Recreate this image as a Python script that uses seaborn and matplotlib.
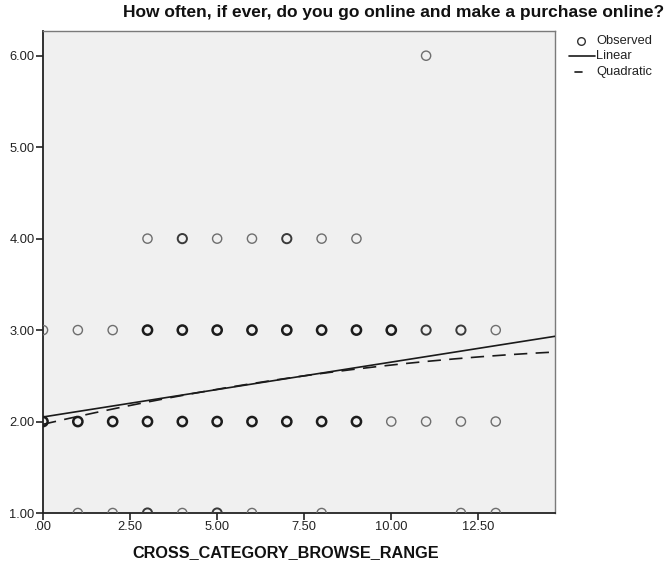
import matplotlib
matplotlib.use("Agg")
import matplotlib.pyplot as plt
from matplotlib.lines import Line2D
import numpy as np
import pandas as pd
import seaborn as sns

# Observed responses: browse range (x), purchase frequency code (y), number of overlapping cases (n)
browse_range = [11,
                3, 4, 5, 6, 7, 8, 9,
                0, 1, 2, 3, 4, 5, 6, 7, 8, 9, 10, 11, 12, 13,
                0, 1, 2, 3, 4, 5, 6, 7, 8, 9, 10, 11, 12, 13,
                1, 2, 3, 4, 5, 6, 8, 12, 13]
purchase_freq = [6,
                 4, 4, 4, 4, 4, 4, 4,
                 3, 3, 3, 3, 3, 3, 3, 3, 3, 3, 3, 3, 3, 3,
                 2, 2, 2, 2, 2, 2, 2, 2, 2, 2, 2, 2, 2, 2,
                 1, 1, 1, 1, 1, 1, 1, 1, 1]
case_count = [1,
              1, 2, 1, 1, 2, 1, 1,
              1, 1, 1, 3, 3, 3, 3, 3, 3, 3, 3, 2, 2, 1,
              3, 3, 3, 3, 3, 3, 3, 3, 3, 3, 1, 1, 1, 1,
              1, 1, 2, 1, 2, 1, 1, 1, 1]

# Fitted curve coefficients (constant, b1, b2)
linear_coef = [2.05, 0.060]
quadratic_coef = [1.97, 0.0883, -0.00235]

x_ticks = [0, 2.5, 5, 7.5, 10, 12.5]
x_tick_labels = [".00", "2.50", "5.00", "7.50", "10.00", "12.50"]
y_ticks = [1, 2, 3, 4, 5, 6]
y_tick_labels = ["1.00", "2.00", "3.00", "4.00", "5.00", "6.00"]
legend_labels = ["Observed", "Linear", "Quadratic"]

df = pd.DataFrame({"x": browse_range, "y": purchase_freq, "n": case_count})

sns.set_theme(style="white")
plt.rcParams["font.family"] = ["Liberation Sans", "DejaVu Sans"]

W, H = 667, 569
fig = plt.figure(figsize=(W / 100, H / 100), dpi=100)
ax = fig.add_axes([0.0645, 0.0984, 0.7675, 0.8471])
ax.set_facecolor("#f0f0f0")

edge_by_n = {1: "#6e6e6e", 2: "#3a3a3a", 3: "#1c1c1c"}
width_by_n = {1: 1.0, 2: 1.4, 3: 1.8}
for n_val, sub in df.groupby("n"):
    sns.scatterplot(data=sub, x="x", y="y", ax=ax, marker="o", s=44,
                    facecolors="none", edgecolor=edge_by_n[n_val],
                    linewidth=width_by_n[n_val], legend=False, zorder=3)

xlim = (0, 14.7)
ylim = (1.0, 6.27)
xs = np.linspace(xlim[0], xlim[1], 200)
lin = linear_coef[0] + linear_coef[1] * xs
quad = quadratic_coef[0] + quadratic_coef[1] * xs + quadratic_coef[2] * xs ** 2
sns.lineplot(x=xs, y=lin, ax=ax, color="#1a1a1a", linewidth=1.2, zorder=4)
sns.lineplot(x=xs, y=quad, ax=ax, color="#1a1a1a", linewidth=1.2, zorder=4)
ax.lines[-1].set_dashes([8, 5])

ax.set_xlim(*xlim)
ax.set_ylim(*ylim)
ax.set_xticks(x_ticks)
ax.set_xticklabels(x_tick_labels)
ax.set_yticks(y_ticks)
ax.set_yticklabels(y_tick_labels)
ax.tick_params(axis="both", direction="out", length=5, width=1.2,
               color="#222222", labelsize=9.3, labelcolor="#222222", pad=1,
               bottom=True, left=True)
ax.set_xlabel("CROSS_CATEGORY_BROWSE_RANGE", fontsize=11.7, fontweight="bold",
              color="#111111")
ax.xaxis.set_label_coords(0.475, -0.066)
ax.set_ylabel("")

for side in ("left", "bottom"):
    ax.spines[side].set_color("#222222")
    ax.spines[side].set_linewidth(1.3)
for side in ("top", "right"):
    ax.spines[side].set_color("#7a7a7a")
    ax.spines[side].set_linewidth(1.0)

fig.text(0.996, 1 - 12 / H, "How often, if ever, do you go online and make a purchase online?",
         ha="right", va="center", fontsize=12.5, fontweight="bold", color="#111111")

# Legend drawn in figure pixel coordinates
def fx(px):
    return px / W

def fy(py):
    return 1 - py / H

key_y = [41, 56, 72]
fig.add_artist(Line2D([fx(581)], [fy(key_y[0])], linestyle="none", marker="o",
                      markersize=5.5, markerfacecolor="none",
                      markeredgecolor="#333333", markeredgewidth=1.0))
fig.add_artist(Line2D([fx(569), fx(595)], [fy(key_y[1])] * 2,
                      color="#1a1a1a", linewidth=1.2))
fig.add_artist(Line2D([fx(575), fx(582)], [fy(key_y[2])] * 2,
                      color="#1a1a1a", linewidth=1.2))
for label, ky in zip(legend_labels, key_y):
    fig.text(fx(596), fy(ky), label, ha="left", va="center",
             fontsize=9.3, color="#222222")

fig.savefig("out.png", dpi=100)
